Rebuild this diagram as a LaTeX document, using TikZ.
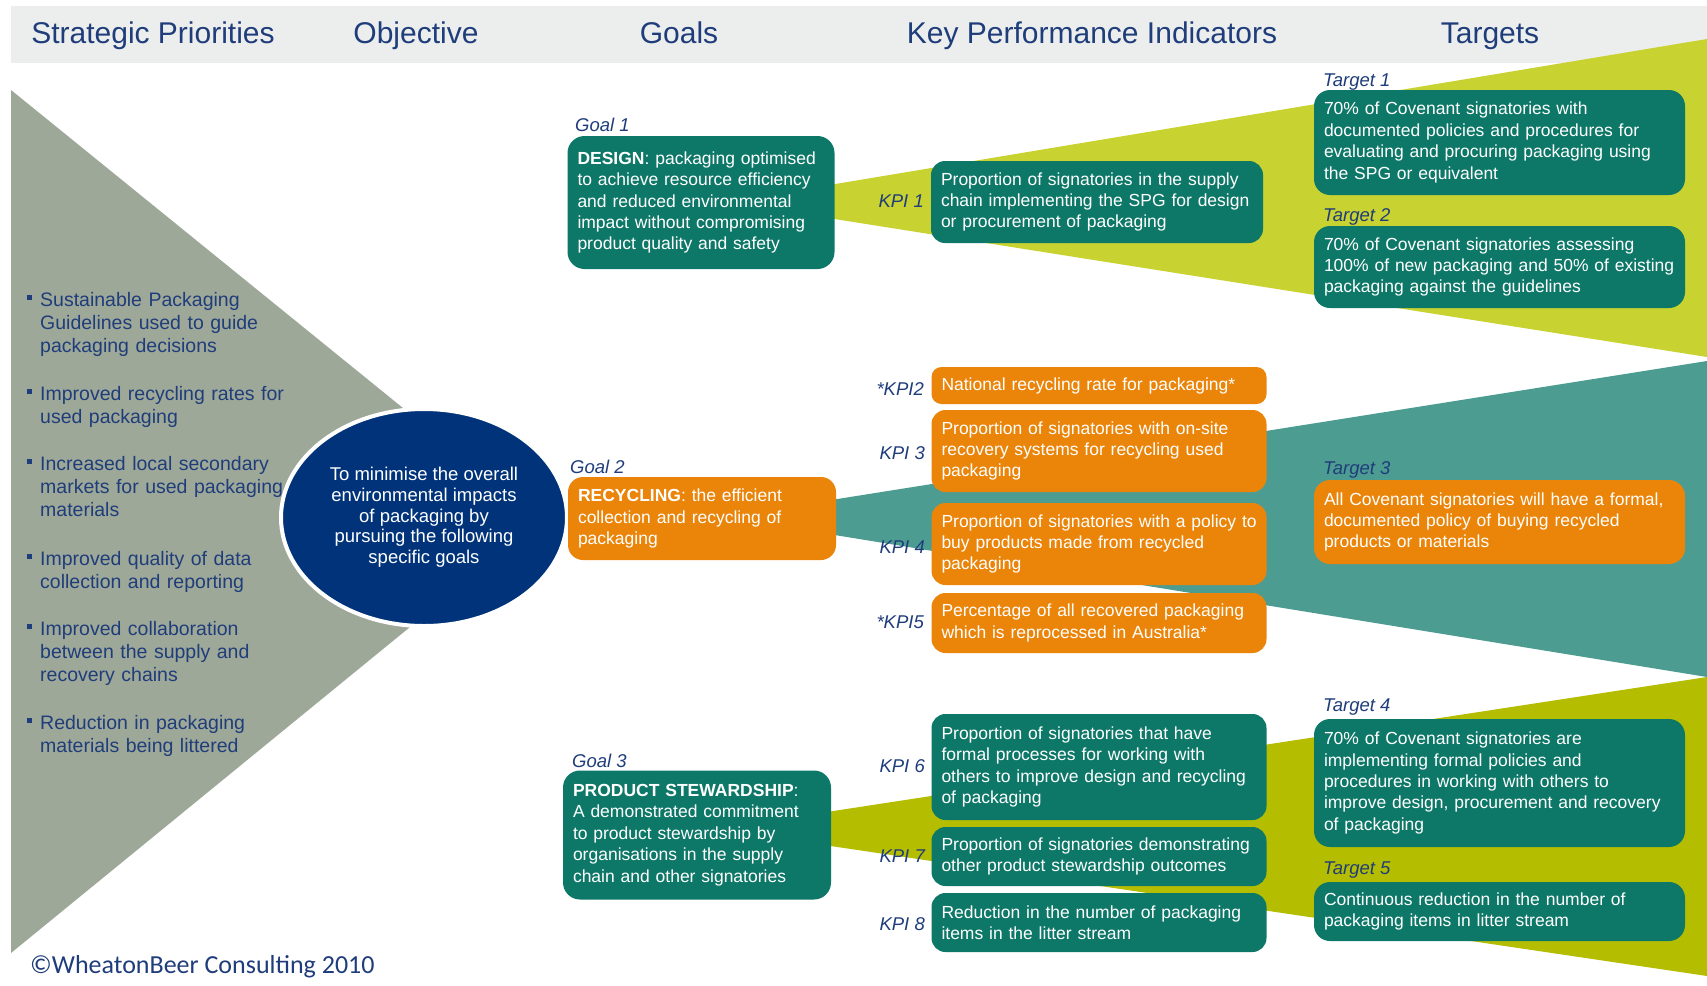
\documentclass[tikz,border=0pt]{standalone}
\usepackage{fontspec}
\setmainfont{Liberation Sans}
\newfontfamily\cfont{Carlito}
\usetikzlibrary{shapes.geometric}
\definecolor{hdrblue}{HTML}{1F3D7A}
\definecolor{bandgray}{HTML}{ECEEEE}
\definecolor{trigray}{HTML}{9EA898}
\definecolor{circblue}{HTML}{00337A}
\definecolor{boxteal}{HTML}{0E7868}
\definecolor{boxorange}{HTML}{EA850A}
\definecolor{wedgeA}{HTML}{C8D230}
\definecolor{wedgeB}{HTML}{4D9C92}
\definecolor{wedgeC}{HTML}{B5BD00}
\tikzset{
  hdr/.style={font=\fontsize{30}{36}\selectfont, text=hdrblue, anchor=base, inner sep=0pt},
  lbl/.style={font=\fontsize{18.5}{22}\selectfont\itshape, text=hdrblue, inner sep=0pt},
  bul/.style={font=\fontsize{19.5}{23}\selectfont, text=hdrblue, anchor=base west, inner sep=0pt, text width=270pt, align=left},
  boxbase/.style={rounded corners=14pt, inner xsep=10pt, inner ysep=0pt, align=left, text=white, font=\fontsize{17.5}{21.4}\selectfont},
  tealbox/.style={boxbase, fill=boxteal},
  orgbox/.style={boxbase, fill=boxorange},
}
\newcommand{\bsq}{\leavevmode\llap{\rule[6pt]{5.5pt}{5.5pt}\hspace{8pt}}}
\begin{document}
\begin{tikzpicture}[x=1pt,y=-1pt]
\useasboundingbox (0,0) rectangle (1707,985);
\fill[white] (0,0) rectangle (1707,985);
% header band
\fill[bandgray] (11,6) rectangle (1707,63);
\node[hdr] (hsp) at (153,43) {Strategic Priorities};
\node[hdr] (hobj) at (416,43) {Objective};
\node[hdr] (hgoal) at (679,43) {Goals};
\node[hdr] (hkpi) at (1092,43) {Key Performance Indicators};
\node[hdr] (htgt) at (1490,43) {Targets};
% gray triangle
\fill[trigray] (11,90) -- (541,520) -- (11,953) -- cycle;
% wedges
\fill[wedgeA] (727,202) -- (1707,39) -- (1707,357) -- cycle;
\fill[wedgeB] (724,517) -- (1707,361) -- (1707,677) -- cycle;
\fill[wedgeC] (716,829) -- (1707,677) -- (1707,976) -- cycle;
% bullets
\node[bul] (b1) at (40,306) {\bsq Sustainable Packaging\\ Guidelines used to guide\\ packaging decisions};
\node[bul] (b2) at (40,400) {\bsq Improved recycling rates for\\ used packaging};
\node[bul] (b3) at (40,470) {\bsq Increased local secondary\\ markets for used packaging\\ materials};
\node[bul] (b4) at (40,565) {\bsq Improved quality of data\\ collection and reporting};
\node[bul] (b5) at (40,635) {\bsq Improved collaboration\\ between the supply and\\ recovery chains};
\node[bul] (b6) at (40,729) {\bsq Reduction in packaging\\ materials being littered};
% objective
\node[ellipse, fill=circblue, draw=white, line width=4pt, minimum width=286pt, minimum height=217pt, inner sep=0pt, align=center, text=white, font=\fontsize{18.5}{20.7}\selectfont] (obj) at (424,517.5) {To minimise the overall\\ environmental impacts\\ of packaging by\\ pursuing the following\\ specific goals};
% goals
\node[lbl, anchor=base west] (lg1) at (575,131) {Goal 1};
\node[lbl, anchor=base west] (lg2) at (570,473) {Goal 2};
\node[lbl, anchor=base west] (lg3) at (572,767) {Goal 3};
\node[tealbox, rounded corners=17pt, text width=247pt, minimum height=133pt] (g1) at (701,202.5) {\textbf{DESIGN}: packaging optimised\\ to achieve resource efficiency\\ and reduced environmental\\ impact without compromising\\ product quality and safety};
\node[orgbox, rounded corners=15pt, text width=248pt, minimum height=83pt] (g2) at (702,518.5) {\textbf{RECYCLING}: the efficient\\ collection and recycling of\\ packaging};
\node[tealbox, rounded corners=17pt, text width=248pt, minimum height=129pt] (g3) at (697,835) {\textbf{PRODUCT STEWARDSHIP}:\\ A demonstrated commitment\\ to product stewardship by\\ organisations in the supply\\ chain and other signatories};
% KPIs
\node[lbl, anchor=base east] (lk1) at (924,207) {KPI 1};
\node[lbl, anchor=base east] (lk2) at (924,395) {*KPI2};
\node[lbl, anchor=base east] (lk3) at (925,459) {KPI 3};
\node[lbl, anchor=base east] (lk4) at (925,553) {KPI 4};
\node[lbl, anchor=base east] (lk5) at (924,628) {*KPI5};
\node[lbl, anchor=base east] (lk6) at (925,772) {KPI 6};
\node[lbl, anchor=base east] (lk7) at (925,862) {KPI 7};
\node[lbl, anchor=base east] (lk8) at (925,930) {KPI 8};
\node[tealbox, text width=312pt, minimum height=82pt] (k1) at (1097,202) {Proportion of signatories in the supply\\ chain implementing the SPG for design\\ or procurement of packaging};
\node[orgbox, rounded corners=10pt, text width=315pt, minimum height=37pt] (k2) at (1099,385.5) {National recycling rate for packaging*};
\node[orgbox, text width=315pt, minimum height=82pt] (k3) at (1099,451) {Proportion of signatories with on-site\\ recovery systems for recycling used\\ packaging};
\node[orgbox, text width=315pt, minimum height=82pt] (k4) at (1099,544) {\mbox{Proportion of signatories with a policy to}\\ buy products made from recycled\\ packaging};
\node[orgbox, text width=315pt, minimum height=60pt] (k5) at (1099,623) {Percentage of all recovered packaging\\ which is reprocessed in Australia*};
\node[tealbox, text width=315pt, minimum height=106pt] (k6) at (1099,767) {Proportion of signatories that have\\ formal processes for working with\\ others to improve design and recycling\\ of packaging};
\node[tealbox, text width=315pt, minimum height=59pt] (k7) at (1099,856.5) {Proportion of signatories demonstrating\\ other product stewardship outcomes};
\node[tealbox, text width=315pt, minimum height=59pt] (k8) at (1099,922.5) {Reduction in the number of packaging\\ items in the litter stream};
% targets
\node[lbl, anchor=base west] (lt1) at (1323,86) {Target 1};
\node[lbl, anchor=base west] (lt2) at (1323,221) {Target 2};
\node[lbl, anchor=base west] (lt3) at (1323,474) {Target 3};
\node[lbl, anchor=base west] (lt4) at (1323,711) {Target 4};
\node[lbl, anchor=base west] (lt5) at (1323,874) {Target 5};
\node[tealbox, rounded corners=16pt, text width=351pt, minimum height=105pt] (t1) at (1499.5,142.5) {70\% of Covenant signatories with\\ documented policies and procedures for\\ evaluating and procuring packaging using\\ the SPG or equivalent};
\node[tealbox, rounded corners=16pt, text width=351pt, minimum height=82pt] (t2) at (1499.5,267) {70\% of Covenant signatories assessing\\ 100\% of new packaging and 50\% of existing\\ packaging against the guidelines};
\node[orgbox, rounded corners=16pt, text width=351pt, minimum height=84pt] (t3) at (1499.5,522) {All Covenant signatories will have a formal,\\ documented policy of buying recycled\\ products or materials};
\node[tealbox, rounded corners=16pt, text width=351pt, minimum height=128pt] (t4) at (1499.5,783) {70\% of Covenant signatories are\\ implementing formal policies and\\ procedures in working with others to\\ improve design, procurement and recovery\\ of packaging};
\node[tealbox, rounded corners=16pt, text width=351pt, minimum height=59pt] (t5) at (1499.5,911.5) {Continuous reduction in the number of\\ packaging items in litter stream};
% copyright
\node[anchor=base west, inner sep=0pt, font=\cfont\fontsize{26}{30}\selectfont, text=hdrblue] (copy) at (30,973) {©WheatonBeer Consulting 2010};
\end{tikzpicture}
\end{document}
